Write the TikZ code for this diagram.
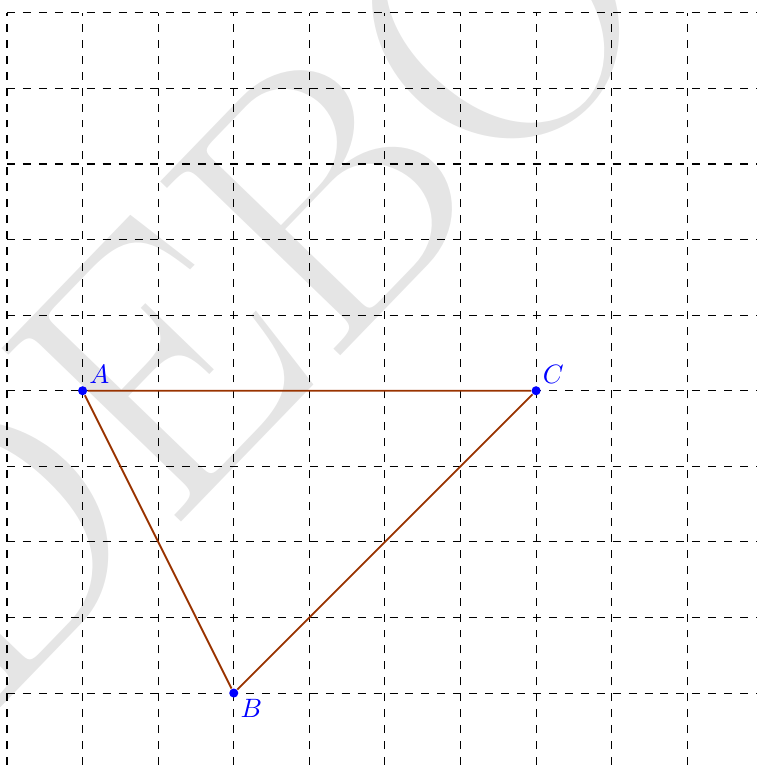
\documentclass[tikz,border=0pt]{standalone}
\usepackage{fontspec}
\usetikzlibrary{positioning}
\definecolor{rust}{RGB}{153,51,0}
\begin{document}
\begin{tikzpicture}[
            vertex/.style={circle, fill=blue, minimum size=1.2mm, inner sep=0pt},
            side/.style={draw=rust, line width=0.7pt},
            tag/.style={text=blue, font=\normalsize, inner sep=1pt}
        ]
            \useasboundingbox (-0.093,-0.952) rectangle (9.92,9.17);
            \node[text=gray!20, rotate=46, font=\fontsize{138}{138}\selectfont] (mark) at (3.12,5.5) {DEBO};
            \draw[dashed, line width=0.4pt] (0,-0.952) grid (9.92,9);
            \node[vertex] (a) at (1, 4) {};
            \node[vertex] (b) at (3, 0) {};
            \node[vertex] (c) at (7, 4) {};
            \draw[side] (a)--(c)--(b)--(a);
            \node[tag, above right=0pt of a] (la) {$A$};
            \node[tag, below right=0pt of b] (lb) {$B$};
            \node[tag, above right=0pt of c] (lc) {$C$};
        \end{tikzpicture}
\end{document}
